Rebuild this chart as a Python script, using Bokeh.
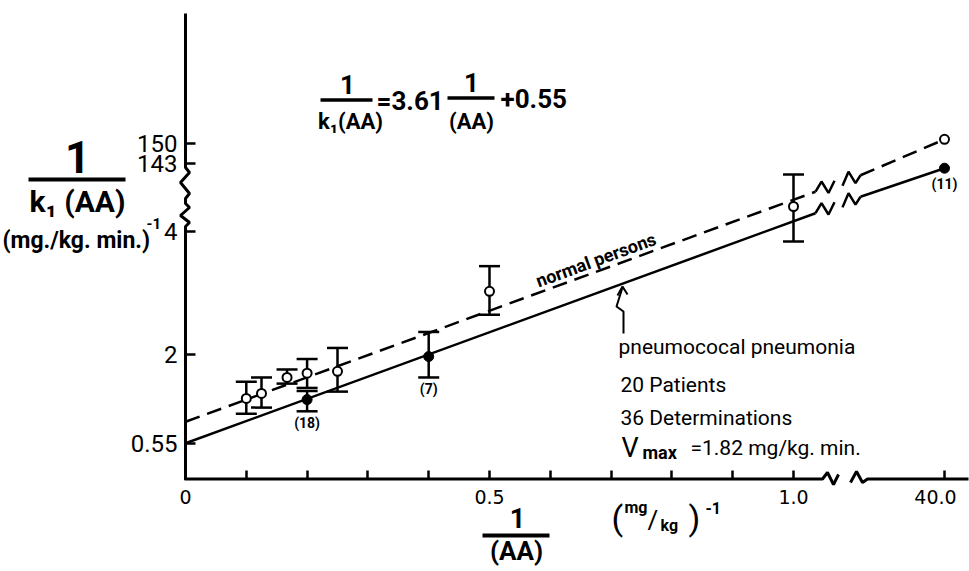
import math
from bokeh.plotting import figure
from bokeh.models import (ColumnDataSource, FixedTicker, CustomJSTickFormatter,
                          LinearAxis, Range1d, Whisker, TeeHead)
from bokeh.core.properties import value
from bokeh.embed import file_html
from bokeh.resources import INLINE

NaN = float("nan")

# ---------------- data ----------------
normal_x = [0.1, 0.125, 0.167, 0.2, 0.25, 0.5, 1.0, 40.0]
normal_y = [1.28, 1.36, 1.62, 1.69, 1.72, 3.02, 4.40, 151.3]
normal_lo = [1.03, 1.13, 1.52, 1.45, 1.39, 2.64, 3.83, NaN]
normal_hi = [1.55, 1.62, 1.75, 1.92, 2.10, 3.43, 4.92, NaN]

pneu_x = [0.2, 0.4, 40.0]
pneu_y = [1.26, 1.96, 141.5]
pneu_lo = [1.07, 1.62, NaN]
pneu_hi = [1.40, 2.36, NaN]
pneu_n = ["(18)", "(7)", "(11)"]

fit_slope = 3.61
normal_intercept = 0.90
pneu_intercept = 0.55

x_ticks = [0.0, 0.5, 1.0, 40.0]
x_tick_labels = ["0", "0.5", "1.0", "40.0"]
x_minor = [0.1, 0.2, 0.3, 0.4, 0.6, 0.7, 0.8, 0.9]
y_ticks = [0.55, 2.0, 4.0, 143.0, 150.0]
y_tick_labels = ["0.55", "2", "4", "143", "150"]

# ---------------- pixel helpers (layout only) ----------------
W, H = 969, 571
PX0, PXU = 185.0, 608.0
PY0, PYU = 476.6, 61.5
def X(px): return (px - PX0) / PXU
def Y(py): return (PY0 - py) / PYU

# broken axes: values beyond the break are mapped into the upper segment
X40 = X(944)
def tx(v): return v if v < 10 else X40 + (v - 40.0) * 0.01
Y143, YPER = Y(163.3), 2.943 / PYU
def ty(v): return v if v < 100 else Y143 + (v - 143.0) * YPER

BOLD_FONT = "Roboto"
TEXT_FONT = "Roboto"
YTICK_FONT = "Roboto"
XTICK_FONT = "DejaVu Sans"

p = figure(width=W, height=H,
           x_range=Range1d(X(0), X(W)), y_range=Range1d(Y(H), Y(0)),
           x_axis_location=None, y_axis_location=None,
           toolbar_location=None, output_backend="svg", min_border=0,
           outline_line_color=None, background_fill_color="white",
           border_fill_color="white")
for g in p.grid:
    g.visible = False

AX_Y = Y(478.5)

def path(pts):
    return [X(a) for a, b in pts], [Y(b) for a, b in pts]

# ---- axis lines with break marks ----
yx, yy = path([(185, 479.5), (185, 226), (189, 222), (180, 215), (189, 207), (185, 203),
               (185, 198), (189, 193), (180, 182), (189, 172), (185, 167), (185, 13)])
p.line(yx, yy, line_width=3, color="black")
xl_x, xl_y = path([(184, 478.5), (822, 478.5), (827, 472), (833, 484), (838, 474)])
p.line(xl_x, xl_y, line_width=3, color="black")
xr_x, xr_y = path([(850, 482), (856, 471), (862, 482), (867, 478.5), (968, 478.5)])
p.line(xr_x, xr_y, line_width=3, color="black")

fmt_code = """
let best = 0;
for (let i = 0; i < tv.length; i++) {
  if (Math.abs(tv[i] - tick) < Math.abs(tv[best] - tick)) best = i;
}
return labels[best];
"""
xt = [tx(v) for v in x_ticks]
xaxis = LinearAxis(fixed_location=AX_Y,
                   ticker=FixedTicker(ticks=xt, minor_ticks=x_minor),
                   formatter=CustomJSTickFormatter(args=dict(tv=xt, labels=x_tick_labels[:-1] + [""]),
                                                   code=fmt_code),
                   axis_line_color=None, major_tick_in=9, major_tick_out=0,
                   minor_tick_in=9, minor_tick_out=0,
                   major_tick_line_width=2.5, minor_tick_line_width=2.5,
                   major_tick_line_color="black", minor_tick_line_color="black",
                   major_label_standoff=11, major_label_text_font=XTICK_FONT,
                   major_label_text_font_size="19px", major_label_text_color="black")
p.add_layout(xaxis, "below")

yt = [ty(v) for v in y_ticks]
yaxis = LinearAxis(fixed_location=0,
                   ticker=FixedTicker(ticks=yt, minor_ticks=[]),
                   formatter=CustomJSTickFormatter(args=dict(tv=yt, labels=y_tick_labels), code=fmt_code),
                   axis_line_color=None, major_tick_in=10, major_tick_out=0,
                   minor_tick_line_color=None, major_tick_line_width=2.5,
                   major_tick_line_color="black",
                   major_label_standoff=8, major_label_text_font=YTICK_FONT,
                   major_label_text_font_size="24px", major_label_text_color="black")
p.add_layout(yaxis, "left")

# ---- fitted lines (with break marks) ----
def fit(b, x):
    return b + fit_slope * x

ZIG_A = [(815, 0), (821, -8), (828, 6), (834, -4)]
ZIG_B = [(842, 4), (848, -8), (855, 6), (860, 0)]
XB0, XB1 = X(815), X(860)

for b, last_x, last_y, dash in [(normal_intercept, normal_x[-1], normal_y[-1], "15 8"),
                                (pneu_intercept, pneu_x[-1], pneu_y[-1], "solid")]:
    p.line([0, XB0], [fit(b, 0), fit(b, XB0)], line_width=2.5, color="black", line_dash=dash)
    for piece in (ZIG_A, ZIG_B):
        zx = [X(a) for a, d in piece]
        zy = [fit(b, X(a)) - d / PYU for a, d in piece]
        p.line(zx, zy, line_width=2.5, color="black")
    p.line([XB1, tx(last_x)], [fit(b, XB1), ty(last_y)], line_width=2.5, color="black",
           line_dash=dash)

# ---- error bars ----
def err_source(xs, lo, hi):
    d = dict(x=[], lo=[], hi=[])
    for a, l, h in zip(xs, lo, hi):
        if not (math.isnan(l) or math.isnan(h)):
            d["x"].append(tx(a)); d["lo"].append(ty(l)); d["hi"].append(ty(h))
    return ColumnDataSource(d)

for xs, lo, hi in [(normal_x, normal_lo, normal_hi), (pneu_x, pneu_lo, pneu_hi)]:
    w = Whisker(base="x", lower="lo", upper="hi", source=err_source(xs, lo, hi),
                dimension="height", line_width=2.5, line_color="black",
                upper_head=TeeHead(size=21, line_width=2.5, line_color="black"),
                lower_head=TeeHead(size=21, line_width=2.5, line_color="black"))
    p.add_layout(w)

# ---- points ----
p.scatter([tx(v) for v in normal_x], [ty(v) for v in normal_y], marker="circle", size=9,
          fill_color="white", line_color="black", line_width=2)
p.scatter([tx(v) for v in pneu_x], [ty(v) for v in pneu_y], marker="circle", size=10,
          fill_color="black", line_color="black", line_width=1)

lab_src = ColumnDataSource(dict(x=[tx(v) for v in pneu_x], y=[ty(v) for v in pneu_y],
                                t=pneu_n, off=[23, 32, 16]))
p.text(x="x", y="y", text="t", y_offset="off", source=lab_src, text_align="center",
       text_baseline="middle", text_font=value(BOLD_FONT), text_font_style="bold",
       text_font_size="14px", text_color="black")

# ---- texts ----
def txt(px, py, s, size, bold=False, align="left", baseline="middle", font=TEXT_FONT, angle=0.0):
    p.text(x=[X(px)], y=[Y(py)], text=[s], text_font=value(font),
           text_font_style="bold" if bold else "normal", text_font_size=f"{size}px",
           text_align=align, text_baseline=baseline, text_color="black", angle=angle)

def bar(px0, px1, py, w=4):
    p.segment(x0=[X(px0)], y0=[Y(py)], x1=[X(px1)], y1=[Y(py)], line_width=w, color="black")

# x tick label beyond the break
p.text(x=[tx(x_ticks[-1])], y=[AX_Y], text=[x_tick_labels[-1]], x_offset=-9, y_offset=11,
       text_align="center", text_baseline="top", text_font=value(XTICK_FONT),
       text_font_size="19px", text_color="black")

# y axis title
txt(77, 156, "1", 44, bold=True, align="center", font=BOLD_FONT)
bar(28, 125, 179)
txt(77, 201, "k\u2081 (AA)", 30, bold=True, align="center", font=BOLD_FONT)
txt(2, 240, "(mg./kg. min.)", 23, bold=True, font=BOLD_FONT)
txt(146, 223, "-1", 15, bold=True, font=BOLD_FONT)

# equation
txt(347, 84, "1", 26, bold=True, align="center", font=BOLD_FONT)
bar(320, 372, 99.5, 3.5)
txt(350, 121, "k\u2081(AA)", 22, bold=True, align="center", font=BOLD_FONT)
txt(376, 100, "=3.61", 26, bold=True, font=BOLD_FONT)
txt(471, 82, "1", 26, bold=True, align="center", font=BOLD_FONT)
bar(447, 494, 97.5, 3.5)
txt(471, 121, "(AA)", 22, bold=True, align="center", font=BOLD_FONT)
txt(500, 98, "+0.55", 26, bold=True, font=BOLD_FONT)

# line label
txt(536, 281, "normal persons", 18, bold=True, baseline="alphabetic", font=BOLD_FONT,
    angle=math.atan(fit_slope * PYU / PXU))

# annotation arrow
ax_, ay_ = path([(623, 333), (623, 311), (616, 306), (622, 287)])
p.line(ax_, ay_, line_width=2, color="black")
hx_, hy_ = path([(617, 295), (622, 286), (627, 294)])
p.line(hx_, hy_, line_width=2, color="black")

txt(618, 346, "pneumococal pneumonia", 21, baseline="alphabetic")
txt(620, 384, "20 Patients", 21, baseline="alphabetic")
txt(620, 417, "36 Determinations", 21, baseline="alphabetic")
txt(621, 447, "V", 27, baseline="alphabetic")
txt(642, 452, "max", 18, bold=True, baseline="alphabetic", font=BOLD_FONT)
txt(690, 447, "=1.82 mg/kg. min.", 21, baseline="alphabetic")

# x axis title
txt(517, 517, "1", 27, bold=True, align="center", font=BOLD_FONT)
bar(482, 549, 535)
txt(516, 550, "(AA)", 26, bold=True, align="center", font=BOLD_FONT)
txt(611, 517, "(", 34)
txt(624, 507, "mg", 16, bold=True, font=BOLD_FONT)
txt(647, 519, "/", 26)
txt(660, 525, "kg", 16, bold=True, font=BOLD_FONT)
txt(688, 517, ")", 34)
txt(705, 507, "-1", 16, bold=True, font=BOLD_FONT)

open("out.html", "w").write(file_html(p, INLINE))
